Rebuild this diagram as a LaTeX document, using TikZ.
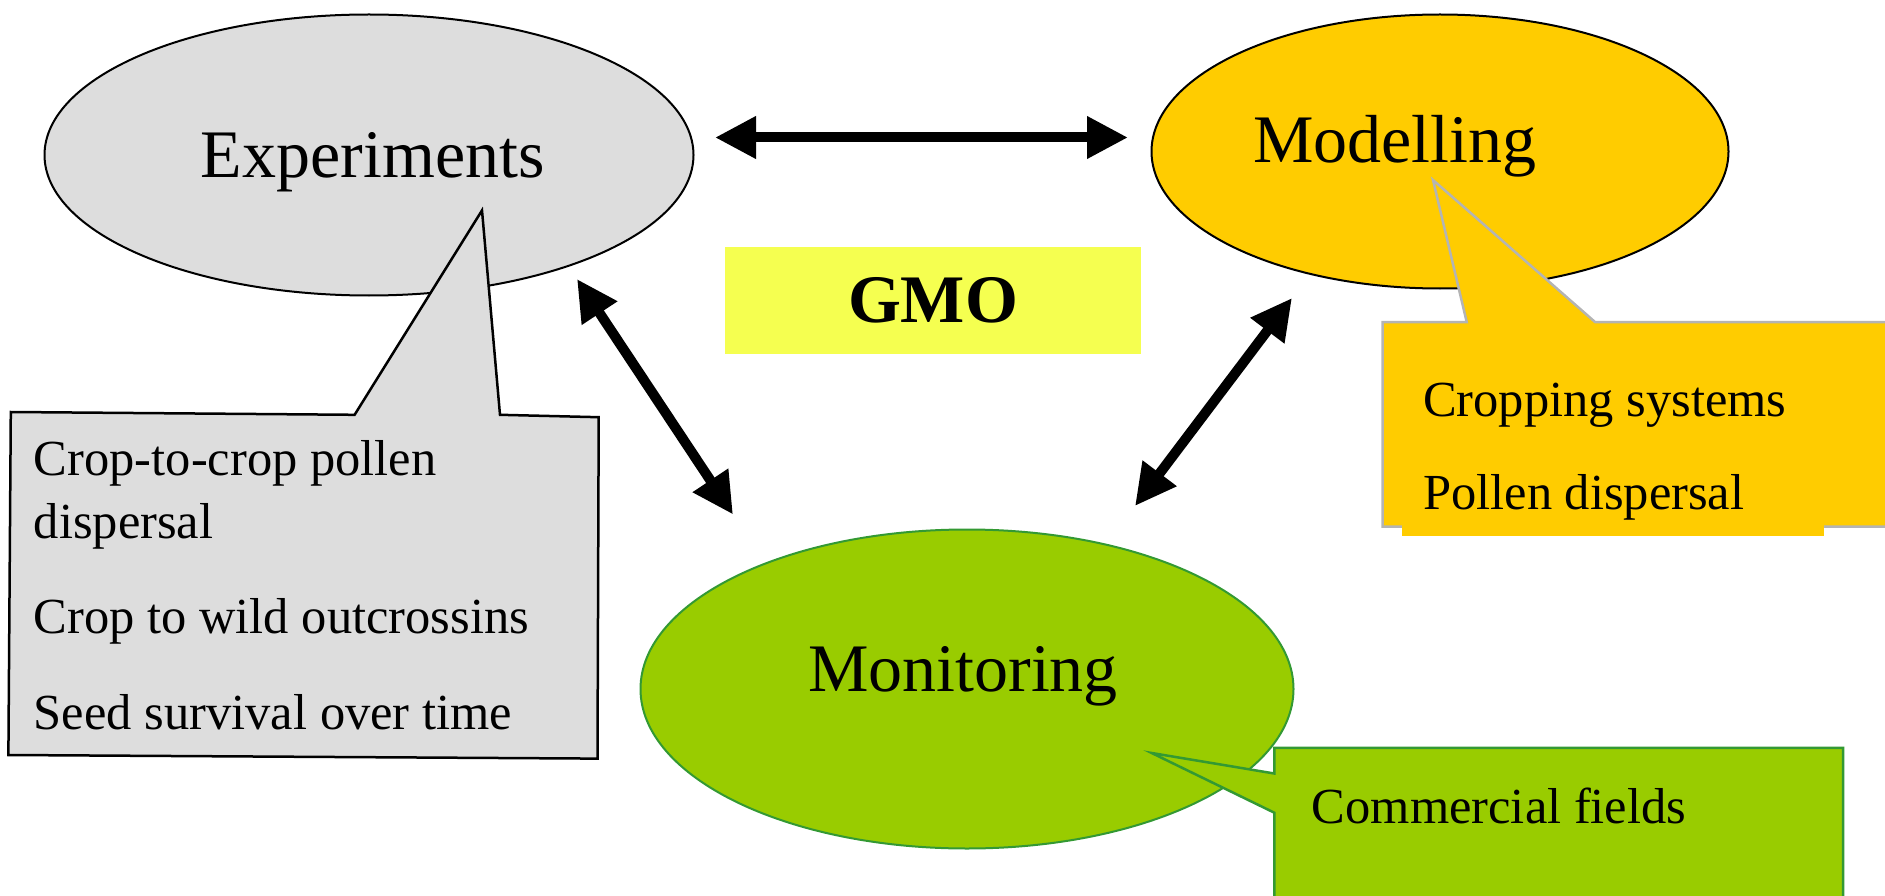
\documentclass[tikz,border=0pt]{standalone}
\usepackage{fontspec}
\setmainfont{Liberation Serif}
\usetikzlibrary{arrows.meta,shapes.geometric}
\definecolor{expgray}{HTML}{DDDDDD}
\definecolor{modyellow}{HTML}{FFCC00}
\definecolor{mongreen}{HTML}{99CC00}
\definecolor{monedge}{HTML}{339933}
\definecolor{gmoyellow}{HTML}{F5FF50}
\definecolor{calloutedge}{HTML}{B4B4B4}
\begin{document}
\begin{tikzpicture}[x=1pt,y=-1pt,
  bigtext/.style={font=\fontsize{68}{80}\selectfont, inner sep=0pt, anchor=base},
  smalltext/.style={font=\fontsize{50.5}{63}\selectfont, inner sep=0pt, anchor=base west, align=left},
  oval/.style={ellipse, draw, line width=2pt, inner sep=0pt},
  calloutline/.style={line width=2.5pt, line join=miter},
  dblarrow/.style={line width=10pt, {Triangle[length=41pt,width=40pt]}-{Triangle[length=41pt,width=40pt]}},
]
\useasboundingbox (0,0) rectangle (1885,896);
\clip (0,0) rectangle (1885,896);

% ellipses
\node[oval, fill=expgray, minimum width=649pt, minimum height=281pt] (exp) at (369,155) {};
\node[oval, fill=modyellow, minimum width=577pt, minimum height=274pt] (mod) at (1440,151.5) {};
\node[oval, fill=mongreen, draw=monedge, minimum width=653pt, minimum height=319pt] (mon) at (967,689) {};

% main labels
\node[bigtext] (expT) at (372.7,178) {Experiments};
\node[bigtext] (modT) at (1395,162.3) {Modelling};
\node[bigtext] (monT) at (963,691) {Monitoring};

% GMO
\node[fill=gmoyellow, minimum width=416pt, minimum height=106pt, inner sep=0pt,
      font=\fontsize{68}{70}\selectfont\bfseries] (gmo) at (933,300.5) {GMO};

% arrows
\coordinate (h1) at (715,137.5);
\coordinate (h2) at (1128,137.5);
\coordinate (l1) at (577,279);
\coordinate (l2) at (733,514.5);
\coordinate (r1) at (1292,298);
\coordinate (r2) at (1135,506);
\draw[dblarrow] (h1) -- (h2);
\draw[dblarrow] (l1) -- (l2);
\draw[dblarrow] (r1) -- (r2);

% experiments callout
\draw[calloutline, fill=expgray] (10.8,412) -- (354.6,414.8) -- (482,210.4) -- (500,414.8)
  -- (598.7,417.2) -- (597.5,758.6) -- (8.4,755) -- cycle;
\node[smalltext] (e1) at (33.7,538.6) {Crop-to-crop pollen\\dispersal};
\node[smalltext] (e2) at (33.7,633.6) {Crop to wild outcrossins};
\node[smalltext] (e3) at (33.7,729.7) {Seed survival over time};

% modelling callout
\draw[calloutline, draw=calloutedge, fill=modyellow] (1382.5,322) -- (1466.7,322) -- (1433,180)
  -- (1595,322) -- (1900,322) -- (1900,526.6) -- (1382.5,526.6) -- cycle;
\fill[modyellow] (1402,505) rectangle (1824,536);
\node[smalltext] (m1) at (1423,416) {Cropping systems};
\node[smalltext] (m2) at (1423,509.7) {Pollen dispersal};

% monitoring callout
\draw[calloutline, draw=monedge, fill=mongreen] (1274.3,747.8) -- (1843,747.8) -- (1843,910)
  -- (1274.3,910) -- (1274.3,812.7) -- (1151.7,753) -- (1274.3,773.5) -- cycle;
\node[smalltext] (c1) at (1311.6,823.5) {Commercial fields};
\end{tikzpicture}
\end{document}
